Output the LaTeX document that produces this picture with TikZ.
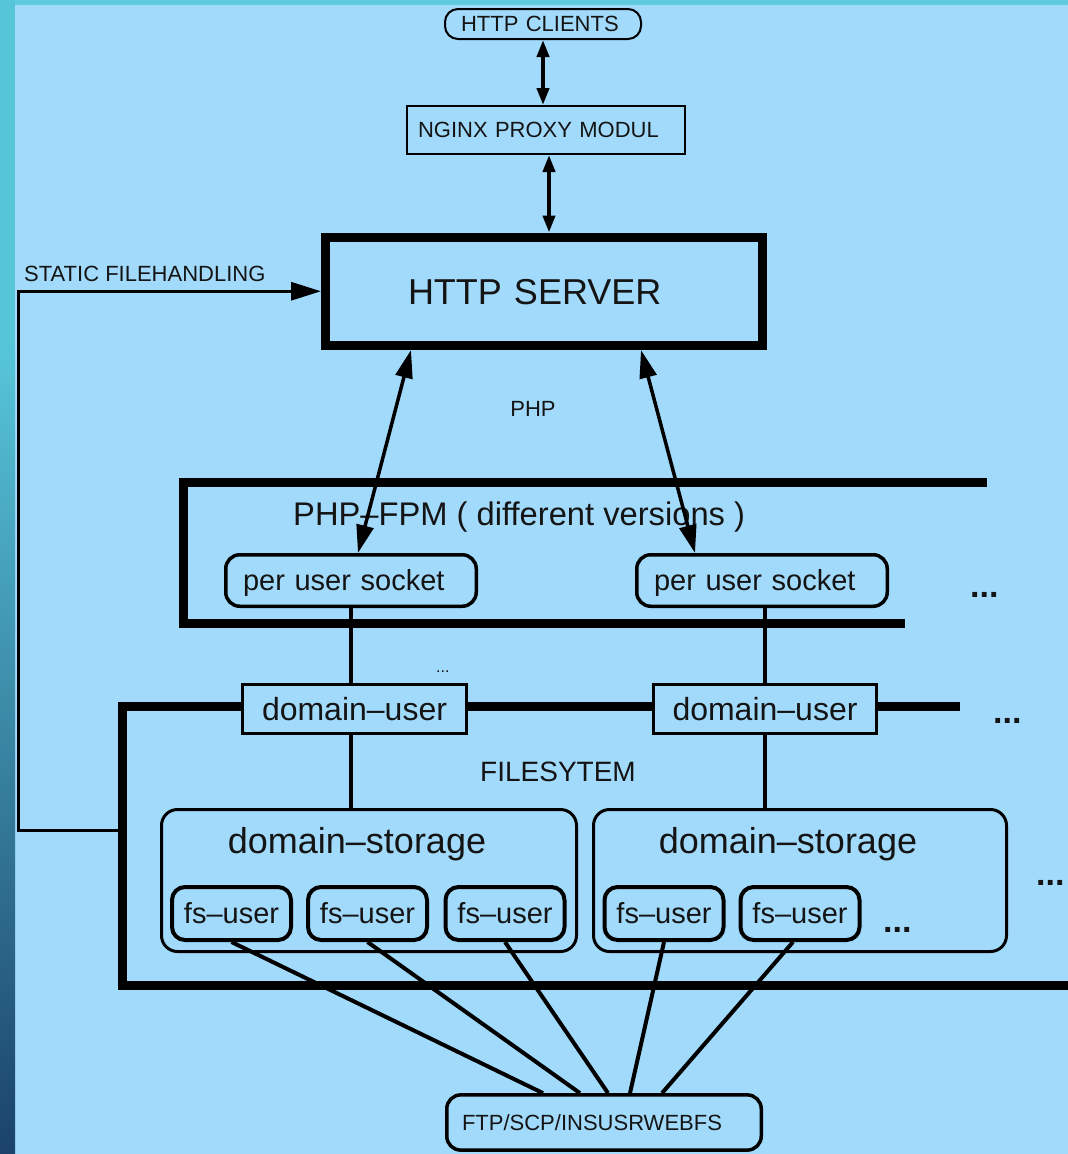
\documentclass[tikz,border=0pt]{standalone}
\usepackage{fontspec}
\setmainfont{Liberation Sans}
\usetikzlibrary{arrows.meta}
\definecolor{bgc}{RGB}{162,218,252}
\definecolor{teal1}{RGB}{86,197,216}
\definecolor{teal2}{RGB}{96,203,222}
\definecolor{navy1}{RGB}{27,66,107}
\definecolor{txtc}{RGB}{20,20,20}
\begin{document}
\begin{tikzpicture}[x=1pt,y=-1pt,
  frame/.style={line width=9pt, line join=miter},
  pill/.style={draw=black, fill=bgc, line width=2pt, rounded corners=13pt, text=txtc, inner ysep=0pt},
  sqbox/.style={draw=black, fill=bgc, line width=2pt, text=txtc, inner ysep=0pt},
  thickbox/.style={draw=black, fill=bgc, line width=9pt, text=txtc, inner ysep=0pt},
  rbox/.style={draw=black, fill=bgc, line width=3.5pt, rounded corners=14pt, text=txtc, inner ysep=0pt},
  dubox/.style={draw=black, fill=bgc, line width=3pt, text=txtc, inner sep=0pt},
  dsbox/.style={draw=black, fill=bgc, line width=3pt, rounded corners=16pt, inner sep=0pt},
  fsbox/.style={draw=black, fill=bgc, line width=4pt, rounded corners=13pt, text=txtc, inner sep=0pt},
  lab/.style={text=txtc, inner sep=0pt},
  f16/.style={font=\fontsize{16}{19}\selectfont},
  f22/.style={font=\fontsize{22}{26}\selectfont, text height=15.8pt, text depth=0pt},
  f28/.style={font=\fontsize{28}{33}\selectfont, text height=20.1pt, text depth=0pt},
  f29/.style={font=\fontsize{29}{34}\selectfont, text height=20.9pt, text depth=0pt},
  f32/.style={font=\fontsize{32}{38}\selectfont, text height=23pt, text depth=0pt},
  f327/.style={font=\fontsize{32.7}{38}\selectfont, text height=23.5pt, text depth=0pt},
  f36/.style={font=\fontsize{36}{42}\selectfont, text height=25.9pt, text depth=0pt},
  dots/.style={text=txtc, inner sep=0pt, font=\fontsize{34}{40}\selectfont\bfseries},
  arrA/.style={line width=4pt, {Triangle[length=17pt,width=12pt]}-{Triangle[length=17pt,width=12pt]}},
  arrB/.style={line width=3.5pt, {Triangle[length=28pt,width=17pt]}-{Triangle[length=28pt,width=17pt]}},
  arrC/.style={line width=3pt, -{Triangle[length=30pt,width=18pt]}},
  conn/.style={line width=3.5pt},
  conn4/.style={line width=4pt}
]
% background
\useasboundingbox (0,0) rectangle (1068,1154);
\fill[bgc] (0,0) rectangle (1068,1154);
\fill[teal2] (0,0) rectangle (1068,5);
\fill[teal1] (0,0) rectangle (15,350);
\shade[top color=teal1, bottom color=navy1] (0,350) rectangle (15,1154);

% frames
\draw[frame] (987,482) -- (183,482) -- (183,623) -- (905,623);
\draw[frame] (960,706) -- (122,706) -- (122,985) -- (1068,985);
\coordinate (fsleft) at (118,830);

% nodes
\node[pill, f22, text width=164pt, inner xsep=16pt, minimum height=30pt, align=left] (clients) at (543,24) {HTTP CLIENTS};
\node[sqbox, f22, text width=256pt, inner xsep=11pt, minimum height=48pt, align=left] (nginx) at (546,130) {NGINX PROXY MODUL};
\node[thickbox, f36, text width=271.5pt, inner xsep=82.5pt, minimum height=108.5pt, align=left] (server) at (543.75,291.25) {HTTP SERVER};

\node[lab, f22, anchor=base west] (static) at (24,281) {STATIC FILEHANDLING};
\node[lab, f22, anchor=base] (php) at (533,416) {PHP};

\node[lab, f327, anchor=base west] (fpmt) at (293,525) {PHP–FPM ( different versions )};
\node[rbox, f29, text width=216pt, inner xsep=17.25pt, minimum height=51.5pt, align=left] (sock1) at (351,580.5) {per user socket};
\node[rbox, f29, text width=216pt, inner xsep=17.25pt, minimum height=51.5pt, align=left] (sock2) at (762,580.5) {per user socket};
\node[dots, anchor=base west] (dotsA) at (970,597) {...};

\node[lab, f16, anchor=base west] (dotsS) at (436,672) {...};
\node[dubox, f32, minimum width=224pt, minimum height=49pt] (du1) at (354.5,709) {domain–user};
\node[dubox, f32, minimum width=223pt, minimum height=49pt] (du2) at (765,709) {domain–user};
\node[dots, anchor=base west] (dotsB) at (993,723) {...};

\node[lab, f28, anchor=base west] (fst) at (480,781) {FILESYTEM};

\node[dsbox, minimum width=415pt, minimum height=142pt] (ds1) at (369,880.5) {};
\node[dsbox, minimum width=413pt, minimum height=142pt] (ds2) at (800,880.5) {};
\node[lab, f36, anchor=base] (ds1t) at (357,853) {domain–storage};
\node[lab, f36, anchor=base] (ds2t) at (788,853) {domain–storage};

\node[fsbox, f29, minimum width=119pt, minimum height=53pt] (fs1) at (231.5,913.5) {fs–user};
\node[fsbox, f29, minimum width=119pt, minimum height=53pt] (fs2) at (367.5,913.5) {fs–user};
\node[fsbox, f29, minimum width=119pt, minimum height=53pt] (fs3) at (505,913.5) {fs–user};
\node[fsbox, f29, minimum width=119pt, minimum height=53pt] (fs4) at (664,913.5) {fs–user};
\node[fsbox, f29, minimum width=119pt, minimum height=53pt] (fs5) at (800,913.5) {fs–user};
\node[dots, anchor=base west] (dotsC) at (883,932) {...};
\node[dots, anchor=base west] (dotsD) at (1036,885) {...};

\node[rbox, f22, text width=284pt, inner xsep=15.25pt, minimum height=55.25pt, align=left] (ftp) at (604,1122.5) {FTP/SCP/INSUSRWEBFS};

% connectors
\draw[arrA] (clients.south) -- (clients.south |- nginx.north);
\draw[arrA] ([xshift=3pt]nginx.south) -- ([xshift=3pt]nginx.south |- server.north);
\draw[arrC] (fsleft) -- ++(-100,0) |- (server.west);
\draw[arrB] ([xshift=-132.75pt]server.south) -- ([xshift=7pt]sock1.north);
\draw[arrB] ([xshift=97.25pt]server.south) -- ([xshift=-67pt]sock2.north);

\draw[conn] (sock1.south) -- (sock1.south |- du1.north);
\draw[conn] (sock1.south |- du1.south) -- (sock1.south |- ds1.north);
\draw[conn] (du2.north |- sock2.south) -- (du2.north);
\draw[conn] (du2.south) -- (du2.south |- ds2.north);

\draw[conn4] (fs1.south) -- ([xshift=-61pt]ftp.north);
\draw[conn4] (fs2.south) -- ([xshift=-24pt]ftp.north);
\draw[conn4] (fs3.south) -- ([xshift=4pt]ftp.north);
\draw[conn4] (fs4.south) -- ([xshift=26pt]ftp.north);
\draw[conn4] ([xshift=-7pt]fs5.south) -- ([xshift=58pt]ftp.north);
\end{tikzpicture}
\end{document}
